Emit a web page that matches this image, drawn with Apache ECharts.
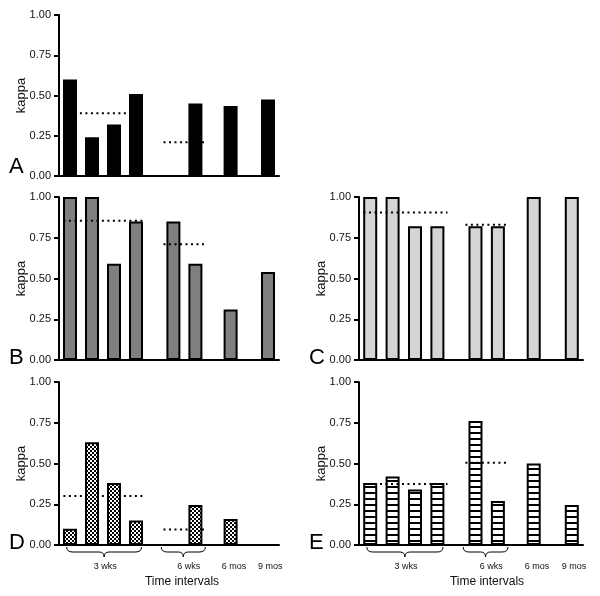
<!DOCTYPE html>
<html><head><meta charset="utf-8">
<script src="https://cdn.jsdelivr.net/npm/echarts@6/dist/echarts.min.js"></script>
<style>html,body{margin:0;padding:0;background:#fff}#c{width:600px;height:596px}</style>
</head><body><div id="c"></div>
<script>
// ---- data ----
const slotX = [0.5, 1.5, 2.5, 3.5, 5.2, 6.2, 7.8, 9.5];
const panelA = [0.60, 0.24, 0.32, 0.51, 0, 0.45, 0.435, 0.475];
const panelB = [1.00, 1.00, 0.59, 0.85, 0.85, 0.59, 0.31, 0.54];
const panelC = [1.00, 1.00, 0.82, 0.82, 0.82, 0.82, 1.00, 1.00];
const panelD = [0.10, 0.63, 0.38, 0.15, 0, 0.245, 0.16, 0];
const panelE = [0.38, 0.42, 0.34, 0.38, 0.76, 0.27, 0.50, 0.245];
const mean3wks = [0.39, 0.855, 0.905, 0.30, 0.375];
const mean6wks = [0.21, 0.71, 0.83, 0.095, 0.505];
const span3wks = [0.2, 3.95];
const span6wks = [4.75, 6.7];
const yTicks = [0, 0.25, 0.5, 0.75, 1];
const groupLabels = ['3 wks', '6 wks', '6 mos', '9 mos'];
const groupLabelX = [2.1, 5.9, 7.95, 9.6];
const braceSpans = [[0.35, 3.75], [4.65, 6.65]];
const panelLetters = ['A', 'B', 'C', 'D', 'E'];
const xTitle = 'Time intervals';
const yTitle = 'kappa';

// ---- fills ----
function makePattern(kind) {
  const c = document.createElement('canvas');
  if (kind === 'checker') {
    c.width = 4; c.height = 4;
    const g = c.getContext('2d');
    g.fillStyle = '#fff'; g.fillRect(0, 0, 4, 4);
    g.fillStyle = '#000'; g.fillRect(0, 0, 2, 2); g.fillRect(2, 2, 2, 2);
  } else {
    c.width = 6; c.height = 6;
    const g = c.getContext('2d');
    g.fillStyle = '#fff'; g.fillRect(0, 0, 6, 6);
    g.fillStyle = '#000'; g.fillRect(0, 0, 6, 2);
  }
  return { image: c, repeat: 'repeat' };
}
const FONT = "'Liberation Sans', Arial, Helvetica, sans-serif";
const panels = [panelA, panelB, panelC, panelD, panelE];
const fills = ['#000000', '#7f7f7f', '#d4d4d4', makePattern('checker'), makePattern('stripes')];
const grids = [
  { left: 59, top: 15, width: 220, height: 161 },
  { left: 59, top: 197, width: 220, height: 163 },
  { left: 359, top: 197, width: 224, height: 163 },
  { left: 59, top: 382, width: 220, height: 163 },
  { left: 359, top: 382, width: 224, height: 163 }
];
const hasXLabels = [false, false, false, true, true];

const xAxes = [], yAxes = [], series = [], graphics = [];
grids.forEach((g, i) => {
  xAxes.push({
    gridIndex: i, type: 'value', min: 0, max: 10,
    axisLine: { show: true, onZero: false, lineStyle: { color: '#000', width: 2 } },
    axisTick: { show: false }, splitLine: { show: false },
    axisLabel: hasXLabels[i] ? {
      show: true, customValues: groupLabelX, fontSize: 9, color: '#111', margin: 17, fontFamily: FONT,
      formatter: v => { const k = groupLabelX.indexOf(v); return k >= 0 ? groupLabels[k] : ''; }
    } : { show: false }
  });
  yAxes.push({
    gridIndex: i, type: 'value', min: yTicks[0], max: yTicks[yTicks.length - 1], interval: yTicks[1] - yTicks[0],
    name: yTitle, nameLocation: 'middle', nameGap: 31, nameMoveOverlap: false,
    nameTextStyle: { fontSize: 13, color: '#111', fontFamily: FONT },
    axisLine: { show: true, lineStyle: { color: '#000', width: 2 } },
    axisTick: { show: true, length: 5, lineStyle: { color: '#000', width: 2 } },
    axisLabel: { fontSize: 11, color: '#111', margin: 8, fontFamily: FONT, formatter: v => v.toFixed(2) },
    splitLine: { show: false }
  });
  series.push({
    type: 'bar', xAxisIndex: i, yAxisIndex: i, barWidth: 14, z: 2,
    data: slotX.map((x, j) => [x, panels[i][j]]),
    itemStyle: { color: fills[i], borderColor: '#000', borderWidth: 2 },
    emphasis: { disabled: true }, silent: true
  });
  series.push({
    type: 'custom', coordinateSystem: 'cartesian2d', xAxisIndex: i, yAxisIndex: i,
    z: i === 3 ? 1 : 5, silent: true,
    data: [[span3wks[0], span3wks[1], mean3wks[i]], [span6wks[0], span6wks[1], mean6wks[i]]],
    encode: { x: [0, 1], y: 2 },
    renderItem: (params, api) => {
      const p0 = api.coord([api.value(0), api.value(2)]);
      const p1 = api.coord([api.value(1), api.value(2)]);
      return { type: 'line', shape: { x1: p0[0], y1: p0[1], x2: p1[0], y2: p1[1] },
        style: { stroke: '#000', lineWidth: 2, lineDash: [2, 3.5] } };
    }
  });
  if (hasXLabels[i]) {
    series.push({
      type: 'custom', coordinateSystem: 'cartesian2d', xAxisIndex: i, yAxisIndex: i,
      clip: false, silent: true, z: 3,
      data: braceSpans.map(s => [s[0], s[1]]),
      encode: { x: [0, 1] },
      renderItem: (params, api) => {
        const a = api.coord([api.value(0), 0]);
        const b = api.coord([api.value(1), 0]);
        const x0 = a[0], x1 = b[0], xm = (x0 + x1) / 2;
        const y0 = a[1] + 2, y1 = y0 + 5, y2 = y0 + 10;
        const d = `M${x0} ${y0} Q${x0} ${y1} ${x0 + 6} ${y1} L${xm - 5} ${y1} Q${xm} ${y1} ${xm} ${y2} Q${xm} ${y1} ${xm + 5} ${y1} L${x1 - 6} ${y1} Q${x1} ${y1} ${x1} ${y0}`;
        return { type: 'path', shape: { pathData: d }, style: { fill: null, stroke: '#000', lineWidth: 1 } };
      }
    });
  }
});

const letterPos = [[9, 168], [9, 359], [309, 359], [9, 544], [309, 544]];
panelLetters.forEach((L, i) => {
  graphics.push({ type: 'text', left: letterPos[i][0], top: letterPos[i][1] - 12,
    style: { text: L, fontSize: 22, fontFamily: FONT, fill: '#000' } });
});
[[182, 582], [487, 582]].forEach(p => {
  graphics.push({ type: 'text', x: p[0], y: p[1],
    style: { text: xTitle, fontSize: 12, fontFamily: FONT, fill: '#111', align: 'center', verticalAlign: 'middle' } });
});

const chart = echarts.init(document.getElementById('c'), null, { renderer: 'canvas' });
chart.setOption({
  animation: false, backgroundColor: '#fff',
  grid: grids, xAxis: xAxes, yAxis: yAxes, series: series, graphic: graphics
});
</script></body></html>
